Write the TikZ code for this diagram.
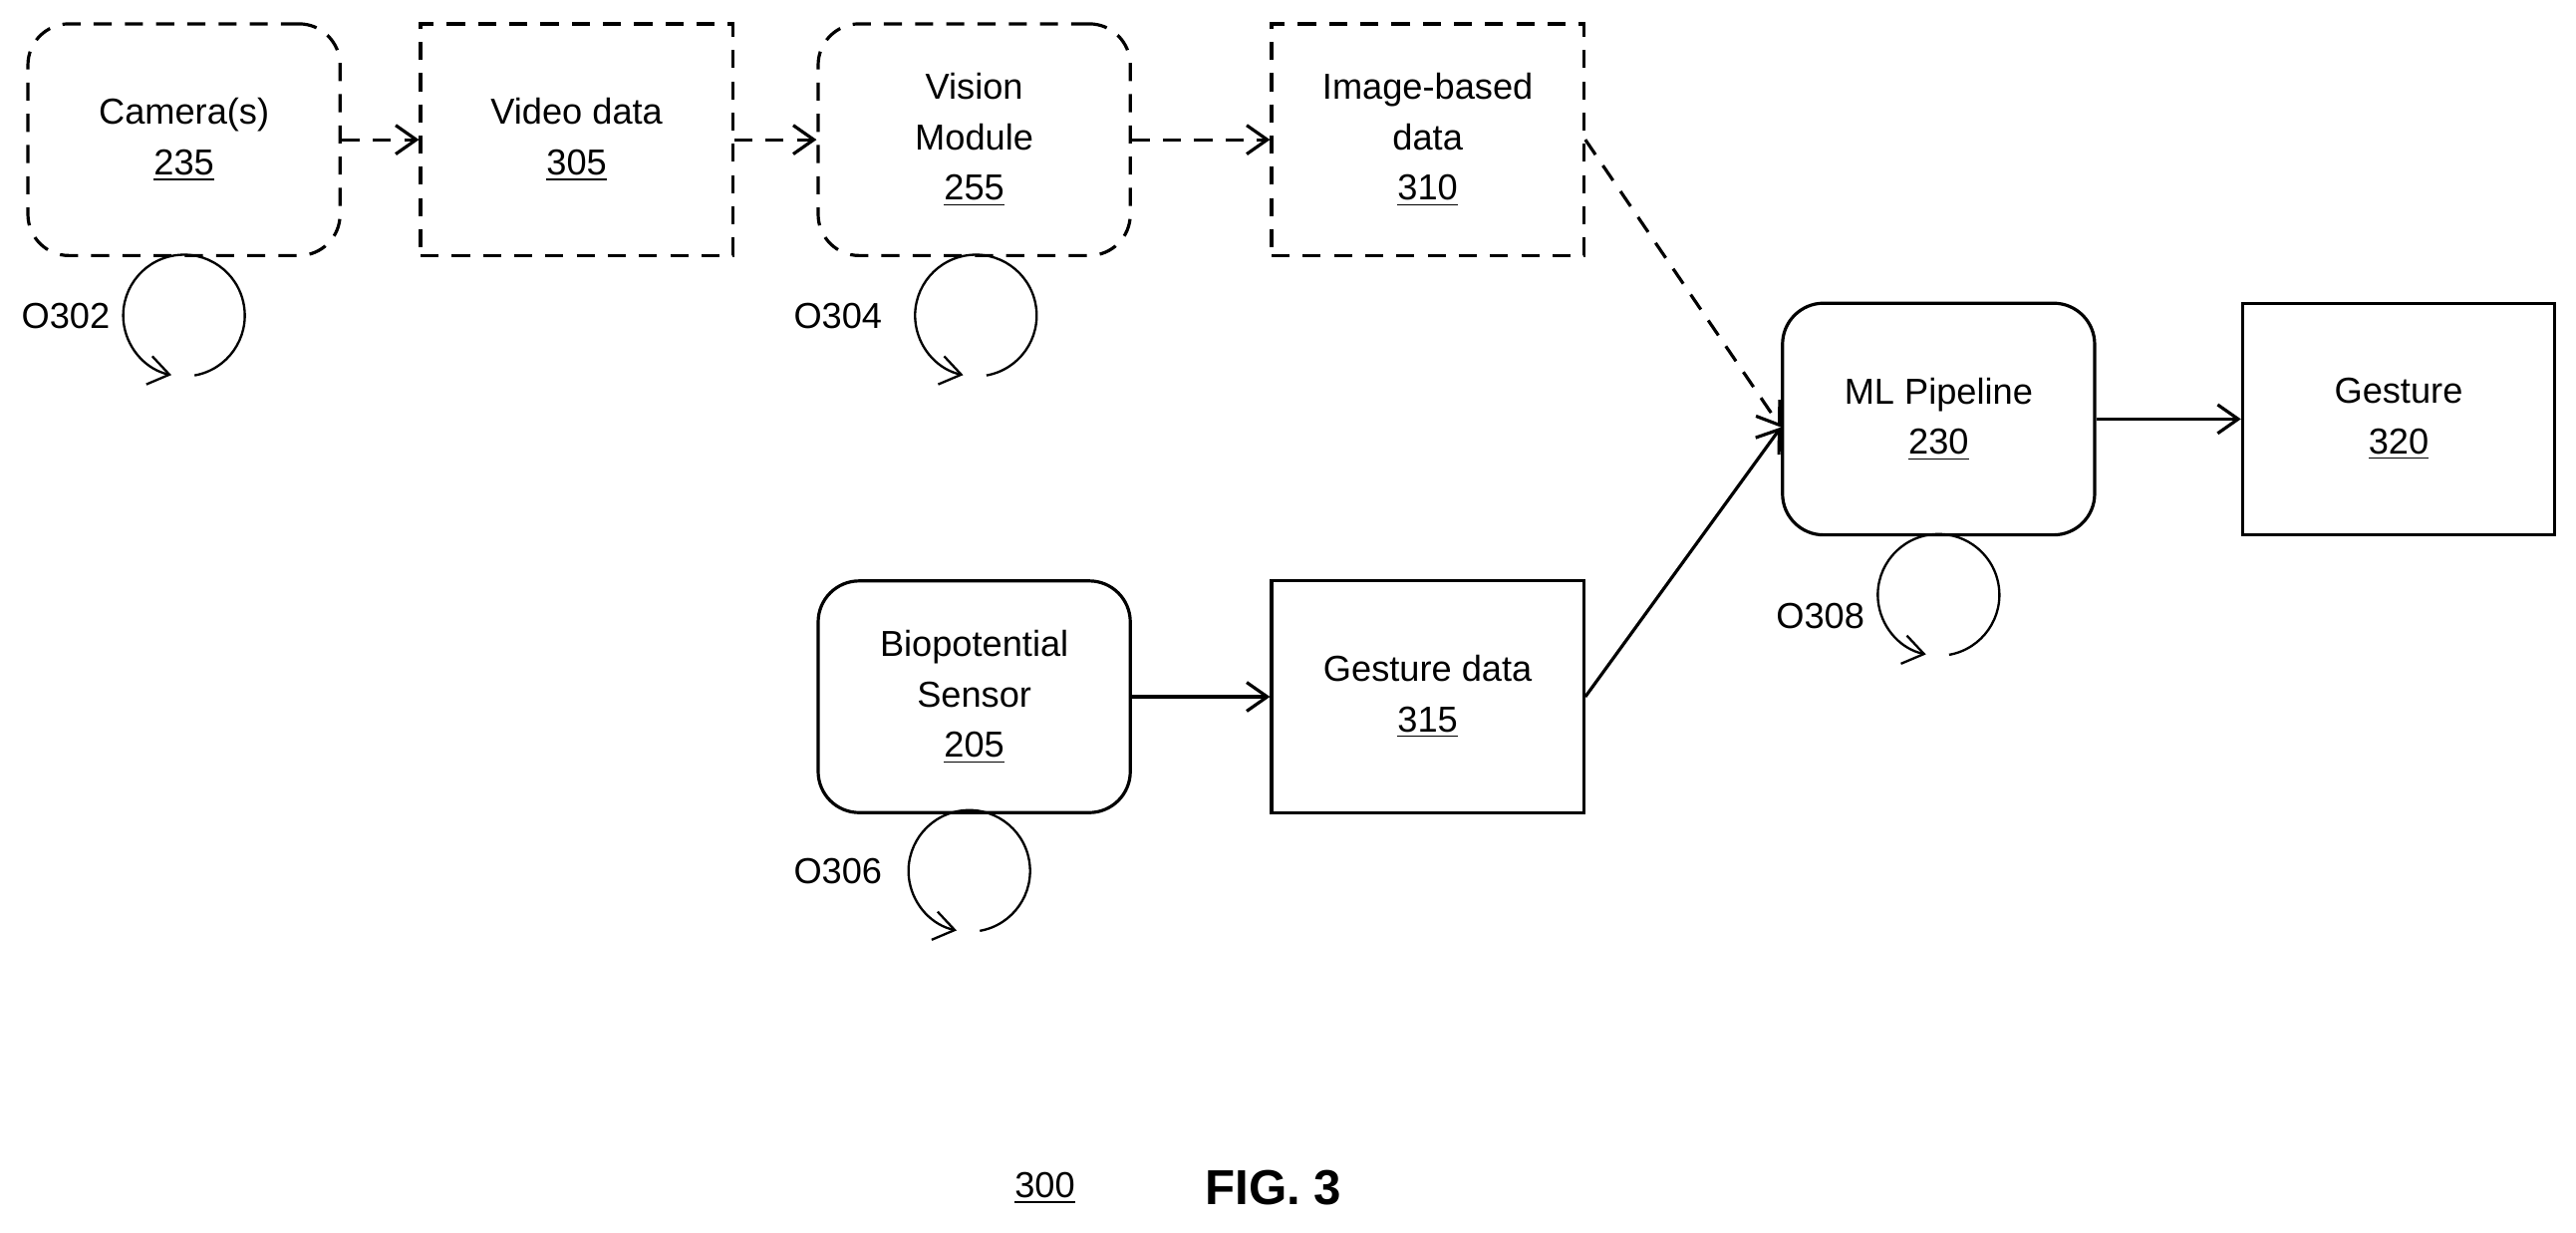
\documentclass[tikz,border=0pt]{standalone}
\usepackage{fontspec}
\setmainfont{Liberation Sans}
\usetikzlibrary{arrows.meta,positioning}
\begin{document}
\begin{tikzpicture}[>={Straight Barb[length=2.5mm,width=3.5mm]},line width=1.1pt,
    font=\fontsize{12.5}{17.5}\selectfont,
    box/.style={draw,minimum width=3.8cm,minimum height=2.82cm,align=center},
    rbox/.style={box,rounded corners=5mm},
    dbox/.style={box,dash pattern=on 2.2mm off 1.6mm},
    drbox/.style={rbox,dash pattern=on 2.2mm off 1.6mm},
    dline/.style={->,dash pattern=on 2.2mm off 1.6mm},
    loop/.style={->,line width=0.8pt}]
  \useasboundingbox (0,0) rectangle (31.36,-15.0);

  \node[drbox] (cam) at (2.24,-1.7) {Camera(s)\\\underline{235}};
  \node[dbox] (vid) at (7.02,-1.7) {Video data\\\underline{305}};
  \node[drbox] (vis) at (11.86,-1.7) {Vision\\Module\\\underline{255}};
  \node[dbox] (img) at (17.38,-1.7) {Image-based\\data\\\underline{310}};

  \node[rbox] (ml) at (23.6,-5.1) {ML Pipeline\\\underline{230}};
  \node[box] (ges) at (29.2,-5.1) {Gesture\\\underline{320}};

  \node[rbox] (bio) at (11.86,-8.48) {Biopotential\\Sensor\\\underline{205}};
  \node[box] (gdat) at (17.38,-8.48) {Gesture data\\\underline{315}};

  % image path
  \draw[dline] (cam) -- (vid);
  \draw[dline] (vid) -- (vis);
  \draw[dline] (vis) -- (img);
  \coordinate (imgout) at (img.east);
  \draw[dline] (imgout) -- ([yshift=-1mm]ml.west);

  % sensor path
  \draw[->] (bio) -- (gdat);
  \draw[->] (gdat.east) -- ([yshift=-1mm]ml.west);
  \draw[->] (ml) -- (ges);

  % operation loops
  \foreach \name/\x/\y/\lx/\ly in {O302/2.24/-3.84/0.8/-3.84,
      O304/11.88/-3.84/10.2/-3.84,
      O306/11.8/-10.6/10.2/-10.6,
      O308/23.6/-7.24/22.16/-7.5} {
    \draw[loop] (\x,\y) ++(-80:0.74) arc[start angle=-80,end angle=258,radius=0.74];
    \node (\name) at (\lx,\ly) {\name};
  }

  \node (fignum) at (12.72,-14.46) {\underline{300}};
  \node[font=\fontsize{17}{20}\selectfont\bfseries] (figlbl) at (15.5,-14.46) {FIG. 3};
\end{tikzpicture}
\end{document}
